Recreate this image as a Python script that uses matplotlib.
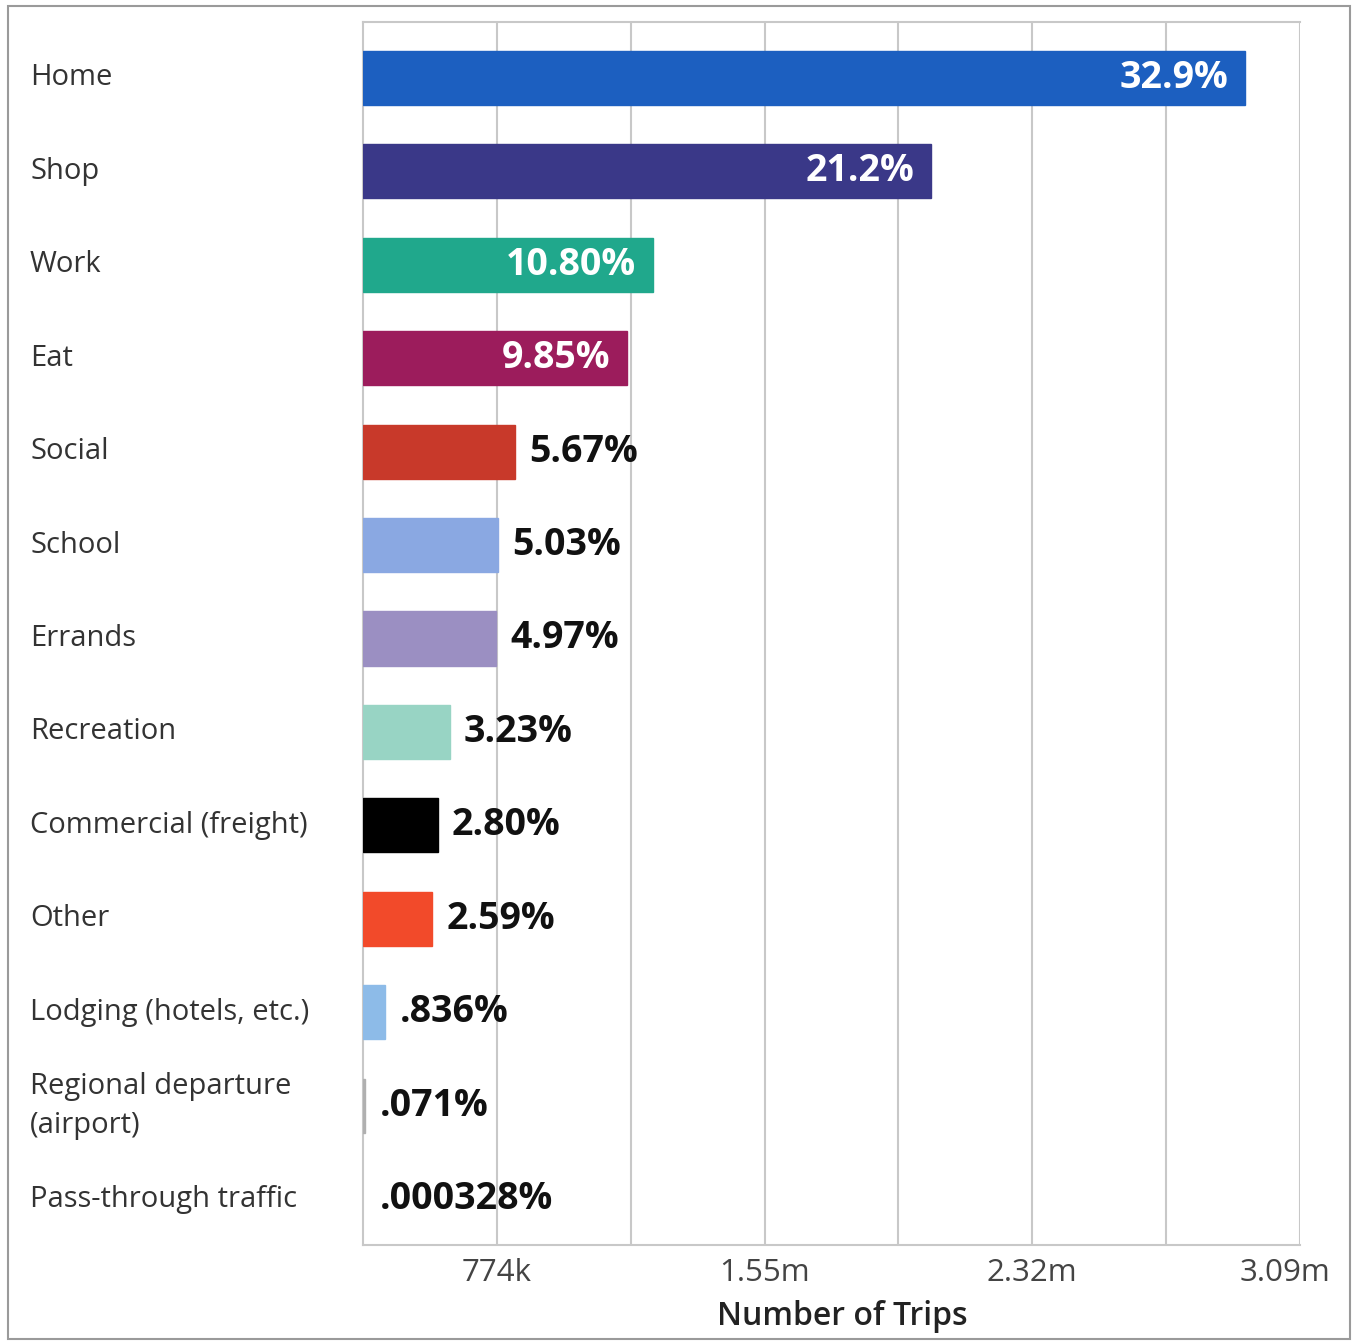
import matplotlib
matplotlib.use("Agg")
import matplotlib.pyplot as plt
import numpy as np
from matplotlib.patches import Rectangle

categories = ["Home", "Shop", "Work", "Eat", "Social", "School", "Errands",
              "Recreation", "Commercial (freight)", "Other", "Lodging (hotels, etc.)",
              "Regional departure\n(airport)", "Pass-through traffic"]
percent = [32.9, 21.2, 10.80, 9.85, 5.67, 5.03, 4.97, 3.23, 2.80, 2.59, 0.836, 0.071, 0.000328]
value_labels = ["32.9%", "21.2%", "10.80%", "9.85%", "5.67%", "5.03%", "4.97%",
                "3.23%", "2.80%", "2.59%", ".836%", ".071%", ".000328%"]
total_trips = 8.84e6  # estimated total so bars match the axis scale
axis_max = 3.09e6
tick_labels = ["774k", "1.55m", "2.32m", "3.09m"]
colors = ["#1c5fc0", "#3a3888", "#20a88c", "#9c1c5c", "#c8392a", "#8aa8e2", "#9b8fc2",
          "#98d4c4", "#000000", "#f24a2a", "#8dbbe8", "#b0b0b0", "#ffffff"]
inside = [True, True, True, True] + [False] * 9

trips = [p / 100 * total_trips for p in percent]

plt.rcParams['font.family'] = ['Open Sans', 'DejaVu Sans']
fig = plt.figure(figsize=(13.53, 13.42), dpi=100)
fig.patch.set_facecolor("white")
fig.add_artist(Rectangle((8/1353, 3/1342), 1342/1353, 1333/1342, transform=fig.transFigure,
                         fill=False, edgecolor="#9a9a9a", linewidth=1.5))

ax = fig.add_axes([363/1353, 1 - 1245/1342, 937/1353, 1223/1342])
y = np.arange(len(categories))
ax.barh(y, trips, height=0.58, color=colors, edgecolor=[c if c != "#ffffff" else "none" for c in colors],
        linewidth=1, zorder=3)
ymax = 12 + 46/93.7
ax.set_ylim(ymax, -56/93.7)
ax.set_xlim(0, axis_max)

px = axis_max / 937
grid = np.linspace(0, axis_max, 8)
for g in grid[1:]:
    ax.axvline(g, color="#c8c8c8", linewidth=1.5, zorder=1)
ax.set_xticks(grid[[1, 3, 5, 7]])
ax.set_xticklabels([])
for k, (pos, lab) in enumerate(zip(grid[[1, 3, 5, 7]], tick_labels)):
    shift = -15 * px if k == 3 else 0
    ax.text(pos + shift, ymax + 0.30, lab, ha="center", va="center", fontsize=22.5,
            color="#444444", clip_on=False)
ax.tick_params(axis="x", length=0)
ax.set_yticks([])

for s in ["top", "bottom", "left"]:
    ax.spines[s].set_color("#c8c8c8")
    ax.spines[s].set_linewidth(1.5)
ax.spines["right"].set_visible(False)

for i, (t, lab, ins) in enumerate(zip(trips, value_labels, inside)):
    if ins:
        ax.text(t - 17 * px, i, lab, ha="right", va="center", fontsize=27,
                fontweight="bold", color="white", zorder=4)
    else:
        ax.text(max(t, 3 * px) + 14 * px, i, lab, ha="left", va="center", fontsize=27,
                fontweight="bold", color="#111111", zorder=4)

for i, cat in enumerate(categories):
    ax.text(-333 * px, i, cat, ha="left", va="center", fontsize=21, color="#333333",
            clip_on=False, linespacing=1.45)

ax.text(axis_max / 2 + 11 * px, ymax + 0.76, "Number of Trips", ha="center", va="center",
        fontsize=23, fontweight="semibold", color="#222222", clip_on=False)

fig.savefig("out.png", dpi=100, facecolor="white")
